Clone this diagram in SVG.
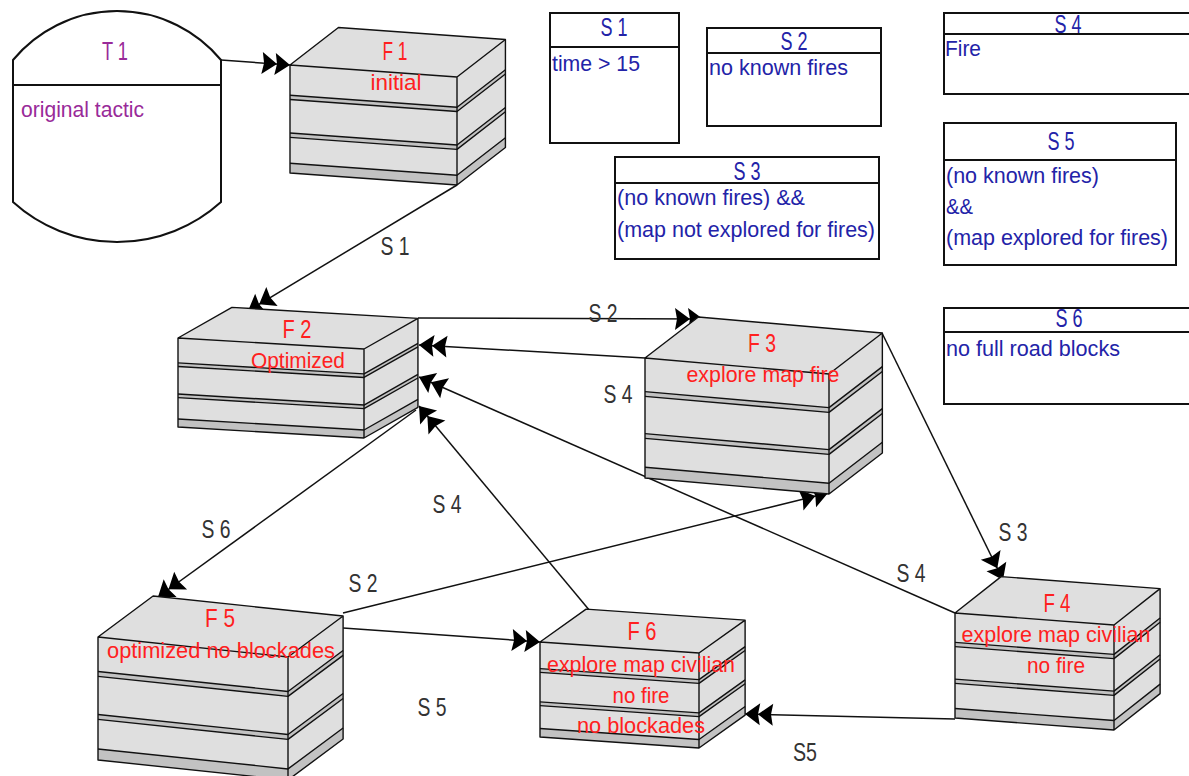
<svg xmlns="http://www.w3.org/2000/svg" xmlns:xlink="http://www.w3.org/1999/xlink" width="1189" height="776" viewBox="0 0 1189 776">
  <style>
    text { font-family: "Liberation Sans", Arial, sans-serif; }
    .face { fill: #dfdfdf; stroke: none; }
    .band { fill: #c2c2c2; stroke: none; }
    .edge { fill: none; stroke: #111; stroke-width: 1.4; vector-effect: non-scaling-stroke; stroke-linejoin: round; }
    .cond { fill: #fff; stroke: #111; stroke-width: 2; }
    .ftitle { font-size: 25px; fill: #ff2020; text-anchor: middle; }
    .ftext { font-size: 22px; fill: #ff2020; text-anchor: middle; }
    .stitle { font-size: 25px; fill: #2323a8; text-anchor: middle; }
    .stext { font-size: 22px; fill: #2323a8; }
    .ttitle { font-size: 25px; fill: #992a99; text-anchor: middle; }
    .ttext { font-size: 22px; fill: #992a99; }
    .conn { fill: none; stroke: #111; stroke-width: 1.5; marker-end: url(#dbl); }
    .lbl { font-size: 25px; fill: #333; text-anchor: middle; }
  </style>
  <defs>
    <!-- double filled arrowhead -->
    <marker id="dbl" markerUnits="userSpaceOnUse" markerWidth="34" markerHeight="28" viewBox="-32 -14 34 28" refX="0" refY="0" orient="auto" overflow="visible">
      <path d="M0,0 L-15,-11 L-13,0 L-15,11 Z M-13,0 L-28,-11 L-26,0 L-28,11 Z" fill="#000"/>
    </marker>
    <!-- layered block: front face 100x100, depth (29,-38) -->
    <g id="box">
      <polygon class="face" points="0,0 29,-38 129,-38 100,0"/>
      <polygon class="face" points="100,0 129,-38 129,62 100,100"/>
      <rect class="face" x="0" y="0" width="100" height="100"/>
      <path class="band" d="M0,28 H100 L129,-10 V-6 L100,32 H0 Z M0,63 H100 L129,25 V29 L100,67 H0 Z M0,91 H100 L129,53 V62 L100,100 H0 Z"/>
      <path class="edge" d="M0,28 H100 L129,-10 M0,32 H100 L129,-6 M0,63 H100 L129,25 M0,67 H100 L129,29 M0,91 H100 L129,53"/>
      <path class="edge" d="M0,0 L29,-38 H129 L100,0 Z M100,0 V100 M129,-38 V62 L100,100 H0 V0"/>
    </g>
  </defs>

  <rect x="0" y="0" width="1189" height="776" fill="#fff"/>

  <!-- transitions -->
  <g id="connectors">
    <path class="conn" d="M221,60 L290,65"/>
    <path class="conn" d="M457,185 L248,311"/>
    <path class="conn" d="M418,318 L703,319"/>
    <path class="conn" d="M645,358 L419,345"/>
    <path class="conn" d="M882,333 L1003,580"/>
    <path class="conn" d="M955,613 L419,377"/>
    <path class="conn" d="M590,611 L419,406"/>
    <path class="conn" d="M416,410 L158,597"/>
    <path class="conn" d="M343,613 L828,493"/>
    <path class="conn" d="M343,628 L540,642"/>
    <path class="conn" d="M955,719 L745,714"/>
    <text class="lbl" x="395" y="255" textLength="29" lengthAdjust="spacingAndGlyphs">S 1</text>
    <text class="lbl" x="603" y="322" textLength="29" lengthAdjust="spacingAndGlyphs">S 2</text>
    <text class="lbl" x="618" y="403" textLength="29" lengthAdjust="spacingAndGlyphs">S 4</text>
    <text class="lbl" x="1013" y="541" textLength="29" lengthAdjust="spacingAndGlyphs">S 3</text>
    <text class="lbl" x="911" y="582" textLength="29" lengthAdjust="spacingAndGlyphs">S 4</text>
    <text class="lbl" x="447" y="513" textLength="29" lengthAdjust="spacingAndGlyphs">S 4</text>
    <text class="lbl" x="216" y="538" textLength="29" lengthAdjust="spacingAndGlyphs">S 6</text>
    <text class="lbl" x="363" y="592" textLength="29" lengthAdjust="spacingAndGlyphs">S 2</text>
    <text class="lbl" x="432" y="716" textLength="29" lengthAdjust="spacingAndGlyphs">S 5</text>
    <text class="lbl" x="805" y="761" textLength="24" lengthAdjust="spacingAndGlyphs">S5</text>
  </g>

  <!-- tactic -->
  <g id="T1">
    <path class="cond" d="M13,60 A135,135 0 0 1 221,60 L221,202 A155,155 0 0 1 13,202 Z"/>
    <line x1="13" y1="85" x2="221" y2="85" stroke="#111" stroke-width="2"/>
    <text class="ttitle" x="115" y="60" textLength="26" lengthAdjust="spacingAndGlyphs">T 1</text>
    <text class="ttext" x="21" y="117" textLength="123" lengthAdjust="spacingAndGlyphs">original tactic</text>
  </g>

  <!-- formations -->
  <g id="F1">
    <use href="#box" transform="matrix(1.67,0.12,0,1.08,290,65)"/>
    <text class="ftitle" x="395" y="60" textLength="25" lengthAdjust="spacingAndGlyphs">F 1</text>
    <text class="ftext" x="396" y="90" textLength="51" lengthAdjust="spacingAndGlyphs">initial</text>
  </g>
  <g id="F2">
    <use href="#box" transform="matrix(1.86,0.11,0,0.89,178,338)"/>
    <text class="ftitle" x="297" y="338" textLength="29" lengthAdjust="spacingAndGlyphs">F 2</text>
    <text class="ftext" x="298" y="368" textLength="94" lengthAdjust="spacingAndGlyphs">Optimized</text>
  </g>
  <g id="F3">
    <use href="#box" transform="matrix(1.84,0.16,0,1.2,645,358)"/>
    <text class="ftitle" x="762" y="352" textLength="28" lengthAdjust="spacingAndGlyphs">F 3</text>
    <text class="ftext" x="763" y="382" textLength="153" lengthAdjust="spacingAndGlyphs">explore map fire</text>
  </g>
  <g id="F4">
    <use href="#box" transform="matrix(1.59,0.12,0,1.05,955,613)"/>
    <text class="ftitle" x="1057" y="612" textLength="27" lengthAdjust="spacingAndGlyphs">F 4</text>
    <text class="ftext" x="1056" y="642" textLength="189" lengthAdjust="spacingAndGlyphs">explore map civilian</text>
    <text class="ftext" x="1056" y="673" textLength="58" lengthAdjust="spacingAndGlyphs">no fire</text>
  </g>
  <g id="F5">
    <use href="#box" transform="matrix(1.9,0.2,0,1.23,98,637)"/>
    <text class="ftitle" x="220" y="627" textLength="30" lengthAdjust="spacingAndGlyphs">F 5</text>
    <text class="ftext" x="221" y="658" textLength="228" lengthAdjust="spacingAndGlyphs">optimized no blockades</text>
  </g>
  <g id="F6">
    <use href="#box" transform="matrix(1.59,0.11,0,0.95,540,642)"/>
    <text class="ftitle" x="642" y="640" textLength="29" lengthAdjust="spacingAndGlyphs">F 6</text>
    <text class="ftext" x="641" y="672" textLength="188" lengthAdjust="spacingAndGlyphs">explore map civilian</text>
    <text class="ftext" x="641" y="703" textLength="57" lengthAdjust="spacingAndGlyphs">no fire</text>
    <text class="ftext" x="641" y="733" textLength="128" lengthAdjust="spacingAndGlyphs">no blockades</text>
  </g>

  <!-- conditions -->
  <g id="S1">
    <rect class="cond" x="550" y="13" width="129" height="130"/>
    <line x1="550" y1="47" x2="679" y2="47" stroke="#111" stroke-width="2"/>
    <text class="stitle" x="614" y="36" textLength="27" lengthAdjust="spacingAndGlyphs">S 1</text>
    <text class="stext" x="552" y="71" textLength="88" lengthAdjust="spacingAndGlyphs">time &gt; 15</text>
  </g>
  <g id="S2">
    <rect class="cond" x="707" y="28" width="174" height="98"/>
    <line x1="707" y1="53" x2="881" y2="53" stroke="#111" stroke-width="2"/>
    <text class="stitle" x="794" y="50" textLength="27" lengthAdjust="spacingAndGlyphs">S 2</text>
    <text class="stext" x="709" y="75" textLength="139" lengthAdjust="spacingAndGlyphs">no known fires</text>
  </g>
  <g id="S3">
    <rect class="cond" x="615" y="157" width="264" height="102"/>
    <line x1="615" y1="183" x2="879" y2="183" stroke="#111" stroke-width="2"/>
    <text class="stitle" x="747" y="180" textLength="27" lengthAdjust="spacingAndGlyphs">S 3</text>
    <text class="stext" x="617" y="205" textLength="188" lengthAdjust="spacingAndGlyphs">(no known fires) &amp;&amp;</text>
    <text class="stext" x="617" y="237" textLength="258" lengthAdjust="spacingAndGlyphs">(map not explored for fires)</text>
  </g>
  <g id="S4">
    <rect class="cond" x="944" y="13" width="250" height="81"/>
    <line x1="944" y1="34" x2="1194" y2="34" stroke="#111" stroke-width="2"/>
    <text class="stitle" x="1068" y="33" textLength="27" lengthAdjust="spacingAndGlyphs">S 4</text>
    <text class="stext" x="945" y="56" textLength="36" lengthAdjust="spacingAndGlyphs">Fire</text>
  </g>
  <g id="S5">
    <rect class="cond" x="944" y="123" width="232" height="142"/>
    <line x1="944" y1="160" x2="1176" y2="160" stroke="#111" stroke-width="2"/>
    <text class="stitle" x="1061" y="150" textLength="27" lengthAdjust="spacingAndGlyphs">S 5</text>
    <text class="stext" x="946" y="183" textLength="153" lengthAdjust="spacingAndGlyphs">(no known fires)</text>
    <text class="stext" x="946" y="214" textLength="27" lengthAdjust="spacingAndGlyphs">&amp;&amp;</text>
    <text class="stext" x="946" y="245" textLength="222" lengthAdjust="spacingAndGlyphs">(map explored for fires)</text>
  </g>
  <g id="S6">
    <rect class="cond" x="944" y="308" width="250" height="96"/>
    <line x1="944" y1="332" x2="1194" y2="332" stroke="#111" stroke-width="2"/>
    <text class="stitle" x="1069" y="327" textLength="27" lengthAdjust="spacingAndGlyphs">S 6</text>
    <text class="stext" x="946" y="356" textLength="174" lengthAdjust="spacingAndGlyphs">no full road blocks</text>
  </g>
</svg>
